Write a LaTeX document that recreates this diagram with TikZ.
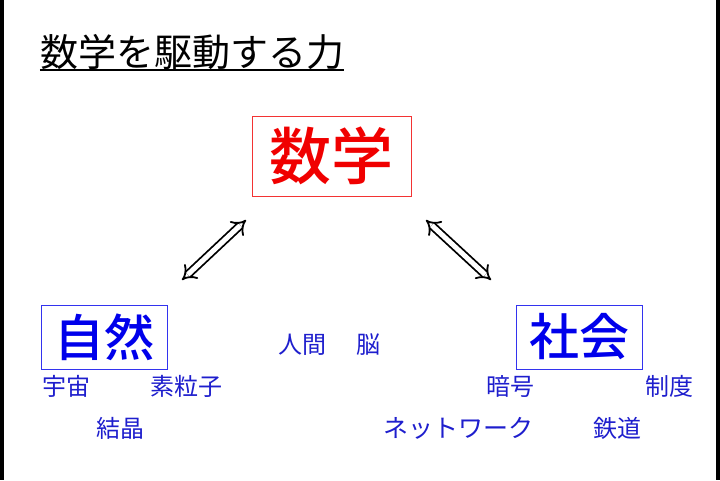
\documentclass[tikz,border=0pt]{standalone}
\usepackage{fontspec}
\usepackage{tikz}
\usetikzlibrary{arrows.meta, positioning}
\newfontfamily\jp{Noto Sans CJK JP}
\newfontfamily\jpm{Noto Sans CJK JP Medium}
\definecolor{kred}{RGB}{240,0,0}
\definecolor{kblue}{RGB}{0,0,235}
\definecolor{wblue}{RGB}{30,30,205}

\begin{document}
\begin{tikzpicture}[x=1pt, y=-1pt]
	\tikzset{frame/.style={draw, line width=0.8pt, inner sep=0pt, minimum width=126pt, minimum height=64pt, text=kblue, draw=kblue!80, font=\jpm\fontsize{50}{50}\selectfont},
		word/.style={inner sep=0pt, text=wblue, font=\jp\fontsize{24}{24}\selectfont},
		twoway/.style={double, double distance=5pt, line width=1.8pt, {Implies[length=9pt]}-{Implies[length=9pt]}} }

	\useasboundingbox (0,0) rectangle (720,480);
	\fill[black] (0,0) rectangle (4,480);
	\fill[black] (716,0) rectangle (720,480);

	\node[inner sep=0pt, font=\jp\fontsize{38}{38}\selectfont] (title) at (192,52) {数学を駆動する力};
	\draw[line width=1.2pt] (title.south west |- 0,70) -- (title.south east |- 0,70);

	\node[frame, minimum width=159pt, minimum height=80pt, draw=kred!80, text=kred, font=\jpm\fontsize{62}{62}\selectfont] (math) at (331.5,156) {数学};
	\node[frame] (nature) at (104,337) {自然};
	\node[frame] (society) at (579.5,337) {社会};

	\coordinate (l1) at (246,220);
	\coordinate (l2) at (182,280);
	\coordinate (r1) at (426,220);
	\coordinate (r2) at (491,280);
	\draw[twoway] (l1) -- (l2);
	\draw[twoway] (r1) -- (r2);

	\node[word] (space) at (66,386) {宇宙};
	\node[word] (particle) at (186,386) {素粒子};
	\node[word] (crystal) at (120,428) {結晶};
	\node[word] (human) at (302,345) {人間};
	\node[word] (brain) at (368,345) {脳};
	\node[word] (cipher) at (510,386) {暗号};
	\node[word] (system) at (669,386) {制度};
	\node[word, font=\jp\fontsize{25}{25}\selectfont] (network) at (458,428) {ネットワーク};
	\node[word] (rail) at (617,428) {鉄道};
\end{tikzpicture}
\end{document}
